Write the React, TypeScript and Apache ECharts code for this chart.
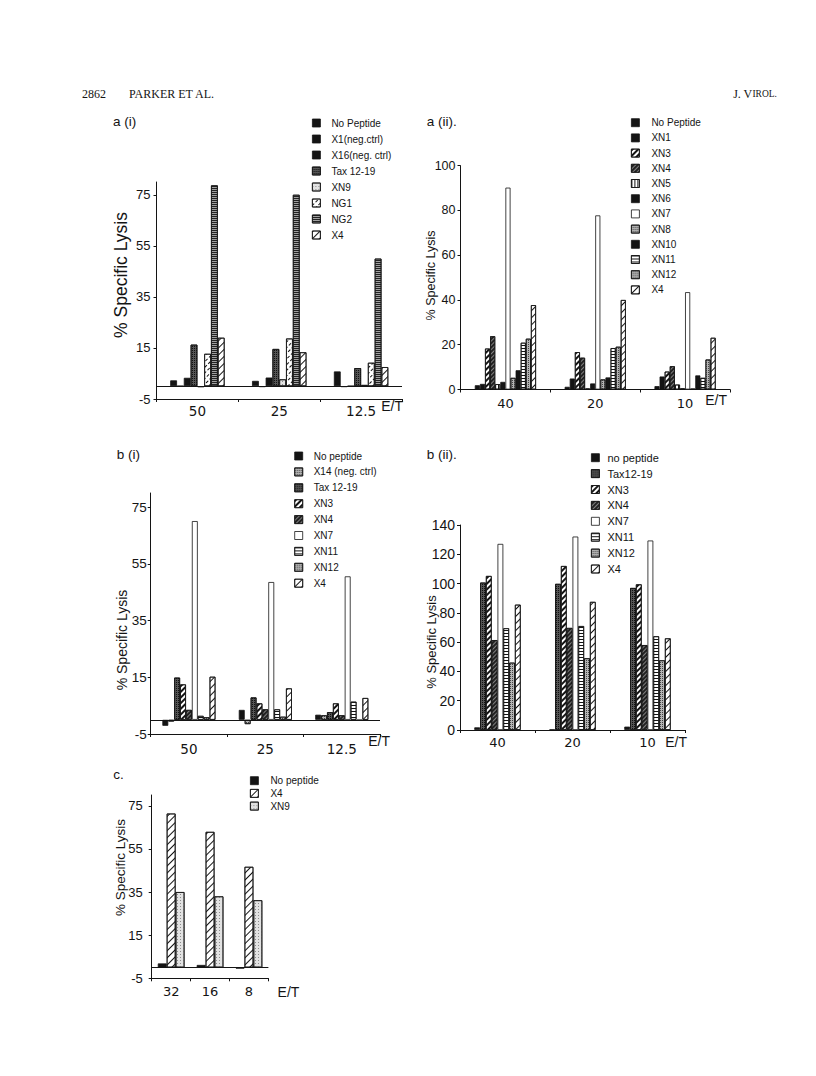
import React, { useEffect, useRef } from "react";
import * as echarts from "echarts";

// ---------- Panel a (i) ----------
const aiCategories = ["50", "25", "12.5"];
const aiNames = ["No Peptide", "X1(neg.ctrl)", "X16(neg. ctrl)", "Tax 12-19", "XN9", "NG1", "NG2", "X4"];
const aiValues = [
  [2.3, 2.1, 5.8],
  [0.1, -0.3, -0.3],
  [3.3, 3.4, 0.1],
  [16.3, 14.6, 7.1],
  [-0.3, 2.7, 0.5],
  [12.7, 18.7, 9.2],
  [78.7, 75.0, 50.0],
  [19.0, 13.3, 7.5],
];
const aiYTicks = [-5, 15, 35, 55, 75];

// ---------- Panel a (ii) ----------
const aiiCategories = ["40", "20", "10"];
const aiiNames = ["No Peptide", "XN1", "XN3", "XN4", "XN5", "XN6", "XN7", "XN8", "XN10", "XN11", "XN12", "X4"];
const aiiValues = [
  [1.9, 1.2, 1.5],
  [2.5, 4.9, 5.8],
  [18.3, 16.7, 8.0],
  [23.8, 14.2, 10.4],
  [2.4, 0.4, 2.2],
  [3.4, 2.7, 0.6],
  [90.2, 77.8, 43.5],
  [5.2, 4.5, 0.3],
  [8.6, 5.4, 6.3],
  [20.9, 18.5, 5.2],
  [22.7, 19.1, 13.4],
  [37.7, 40.0, 23.1],
];
const aiiYTicks = [0, 20, 40, 60, 80, 100];

// ---------- Panel b (i) ----------
const biCategories = ["50", "25", "12.5"];
const biNames = ["No peptide", "X14 (neg. ctrl)", "Tax 12-19", "XN3", "XN4", "XN7", "XN11", "XN12", "X4"];
const biValues = [
  [-2.1, 3.5, 1.8],
  [-0.6, -1.5, 1.6],
  [14.9, 7.9, 2.7],
  [12.5, 5.8, 5.8],
  [3.5, 3.7, 1.6],
  [70.1, 48.6, 50.6],
  [1.4, 3.7, 6.4],
  [0.9, 1.1, -0.3],
  [15.2, 11.1, 7.7],
];
const biYTicks = [-5, 15, 35, 55, 75];

// ---------- Panel b (ii) ----------
const biiCategories = ["40", "20", "10"];
const biiNames = ["no peptide", "Tax12-19", "XN3", "XN4", "XN7", "XN11", "XN12", "X4"];
const biiValues = [
  [1.8, 0.3, 2.3],
  [100.7, 99.8, 97.0],
  [105.2, 112.0, 99.5],
  [61.4, 69.7, 58.0],
  [127.1, 132.1, 129.4],
  [69.5, 71.0, 64.0],
  [46.0, 49.0, 47.6],
  [85.6, 87.5, 62.6],
];
const biiYTicks = [0, 20, 40, 60, 80, 100, 120, 140];

// ---------- Panel c ----------
const cCategories = ["32", "16", "8"];
const cNames = ["No peptide", "X4", "XN9"];
const cValues = [
  [1.9, 1.2, -0.5],
  [71.4, 62.9, 46.7],
  [35.0, 33.0, 31.2],
];
const cYTicks = [-5, 15, 35, 55, 75];

// ---------- styles ----------
const INK = "#141414";
const FONT = "'Liberation Sans', Arial, Helvetica, sans-serif";
const WIDE = "'DejaVu Sans', 'Liberation Sans', sans-serif";
const SERIF = "'Liberation Serif', 'Times New Roman', serif";
const DIAG = -Math.PI / 4;

const lines = (color: string, dashX: number[], dashY: number[], rotation: number) => ({
  symbol: "rect",
  symbolSize: 1,
  symbolKeepAspect: false,
  color,
  dashArrayX: dashX,
  dashArrayY: dashY,
  rotation,
});

const patternStyles: Record<string, any> = {
  black: { color: INK },
  white: { color: "#ffffff" },
  hatch: { color: "#ffffff", decal: lines(INK, [4, 0], [1, 4], DIAG) },
  hatchDense: { color: "#ffffff", decal: lines(INK, [4, 0], [2, 2], DIAG) },
  hatchDark: { color: "#222222", decal: lines("#808080", [4, 0], [1, 2], DIAG) },
  dashDiag: { color: "#ffffff", decal: lines(INK, [3, 2], [1, 3], DIAG) },
  vert: { color: "#ffffff", decal: lines(INK, [1, 2], [4, 0], 0) },
  horiz: { color: "#ffffff", decal: lines(INK, [4, 0], [1, 2], 0) },
  horizGrey: { color: "#a0a0a0", decal: lines("#222222", [4, 0], [1, 1], 0) },
  stippleDark: { color: "#555555", decal: lines("#111111", [1, 1], [1, 1], 0) },
  stippleMid: { color: "#b4b4b4", decal: lines("#444444", [1, 1], [1, 1], 0) },
  stippleLight: { color: "#e2e2e2", decal: lines("#8c8c8c", [1, 2], [1, 2], 0) },
};

const aiPatterns = ["black", "black", "black", "stippleDark", "stippleLight", "dashDiag", "horizGrey", "hatch"];
const aiiPatterns = ["black", "black", "hatchDense", "hatchDark", "vert", "black", "white", "stippleMid", "black", "horiz", "stippleMid", "hatch"];
const biPatterns = ["black", "stippleMid", "stippleDark", "hatchDense", "hatchDark", "white", "horiz", "stippleMid", "hatch"];
const biiPatterns = ["black", "stippleDark", "hatchDense", "hatchDark", "white", "horiz", "stippleMid", "hatch"];
const cPatterns = ["black", "hatch", "stippleLight"];

const panels = [
  {
    categories: aiCategories, names: aiNames, values: aiValues, patterns: aiPatterns, yTicks: aiYTicks,
    grid: { left: 156.5, top: 182, width: 245.5, height: 217 }, yMin: -5, yMax: 80, barWidth: 6.8, zeroLine: true,
    tickFont: 13, catFont: 13.5, yLabelMargin: 6, xLabelMargin: 5, etGap: 1, etPad: 0,
    legend: { left: 312, top: 117, fontSize: 10, gap: 4, textPad: 6 },
    title: { text: "a (i)", x: 113, y: 122.5 },
    yName: { x: 120.5, y: 275, size: 17.5 },
  },
  {
    categories: aiiCategories, names: aiiNames, values: aiiValues, patterns: aiiPatterns, yTicks: aiiYTicks,
    grid: { left: 460.5, top: 165.7, width: 269.5, height: 223.8 }, yMin: 0, yMax: 100, barWidth: 5.1, zeroLine: false,
    tickFont: 12.5, catFont: 13, yLabelMargin: 5, xLabelMargin: 7, etGap: -3, etPad: 3,
    legend: { left: 631, top: 116.7, fontSize: 10, gap: 3.2, textPad: 7 },
    title: { text: "a (ii).", x: 426.7, y: 122 },
    yName: { x: 430.5, y: 275.5, size: 12.5 },
  },
  {
    categories: biCategories, names: biNames, values: biValues, patterns: biPatterns, yTicks: biYTicks,
    grid: { left: 150.7, top: 493, width: 229.3, height: 241 }, yMin: -5, yMax: 80, barWidth: 5.9, zeroLine: true,
    tickFont: 13.5, catFont: 13.5, yLabelMargin: 4, xLabelMargin: 8, etGap: 10, etPad: 0,
    legend: { left: 294.3, top: 450, fontSize: 10, gap: 3.9, textPad: 6 },
    title: { text: "b (i)", x: 116.7, y: 455 },
    yName: { x: 121.5, y: 640, size: 14 },
  },
  {
    categories: biiCategories, names: biiNames, values: biiValues, patterns: biiPatterns, yTicks: biiYTicks,
    grid: { left: 460, top: 525, width: 225, height: 205 }, yMin: 0, yMax: 140, barWidth: 5.8, zeroLine: false,
    tickFont: 14, catFont: 13, yLabelMargin: 5, xLabelMargin: 6, etGap: 2, etPad: 5,
    legend: { left: 591, top: 451.7, fontSize: 11, gap: 3.9, textPad: 3 },
    title: { text: "b (ii).", x: 426.7, y: 455 },
    yName: { x: 431, y: 642, size: 13 },
  },
  {
    categories: cCategories, names: cNames, values: cValues, patterns: cPatterns, yTicks: cYTicks,
    grid: { left: 151.7, top: 795, width: 116.7, height: 183.3 }, yMin: -5, yMax: 80, barWidth: 8.9, zeroLine: true,
    tickFont: 13, catFont: 13, yLabelMargin: 9, xLabelMargin: 7, etGap: 31, etPad: 7,
    legend: { left: 250, top: 774.7, fontSize: 10, gap: 0.7, textPad: 7 },
    title: { text: "c.", x: 113.3, y: 775 },
    yName: { x: 120, y: 867.5, size: 13.5 },
  },
];

function buildOption() {
  const grid: any[] = [];
  const xAxis: any[] = [];
  const yAxis: any[] = [];
  const series: any[] = [];
  const legend: any[] = [];
  const graphic: any[] = [];

  panels.forEach((p, i) => {
    grid.push({ ...p.grid, containLabel: false, outerBoundsMode: "none" });
    xAxis.push({
      type: "category",
      gridIndex: i,
      data: p.categories,
      axisLine: { onZero: false, lineStyle: { color: INK, width: 1 } },
      axisTick: { show: true, length: 3, lineStyle: { color: INK, width: 1 } },
      axisLabel: { color: INK, fontFamily: WIDE, fontSize: p.catFont, margin: p.xLabelMargin },
      splitLine: { show: false },
      name: "E/T",
      nameLocation: "end",
      nameGap: p.etGap,
      nameTextStyle: {
        color: INK, fontFamily: FONT, fontSize: 14,
        align: "right", verticalAlign: "top", padding: [p.etPad, 0, 0, 0],
      },
    });
    yAxis.push({
      type: "value",
      gridIndex: i,
      min: p.yMin,
      max: p.yMax,
      axisLine: { show: true, lineStyle: { color: INK, width: 1 } },
      axisTick: { show: true, length: 3, customValues: p.yTicks, lineStyle: { color: INK, width: 1 } },
      axisLabel: { customValues: p.yTicks, color: INK, fontFamily: FONT, fontSize: p.tickFont, margin: p.yLabelMargin },
      splitLine: { show: false },
    });
    p.names.forEach((name, k) => {
      const st = patternStyles[p.patterns[k]];
      const s: any = {
        type: "bar",
        name,
        xAxisIndex: i,
        yAxisIndex: i,
        data: p.values[k],
        barWidth: p.barWidth,
        barGap: "0%",
        silent: true,
        emphasis: { disabled: true },
        itemStyle: { ...st, borderColor: INK, borderWidth: 0.8 },
      };
      if (k === 0 && p.zeroLine) {
        s.markLine = {
          silent: true,
          symbol: "none",
          label: { show: false },
          lineStyle: { color: INK, width: 1, type: "solid" },
          data: [{ yAxis: 0 }],
        };
      }
      series.push(s);
    });
    legend.push({
      orient: "vertical",
      left: p.legend.left,
      top: p.legend.top,
      padding: 0,
      itemWidth: 8,
      itemHeight: 8,
      itemGap: p.legend.gap,
      icon: "rect",
      selectedMode: false,
      data: p.names,
      itemStyle: { borderColor: INK, borderWidth: 0.8 },
      textStyle: {
        color: INK, fontFamily: FONT, fontSize: p.legend.fontSize, lineHeight: 12,
        padding: [0, 0, 0, p.legend.textPad],
      },
    });
    graphic.push({
      type: "text",
      left: p.title.x,
      top: p.title.y - 8,
      style: { text: p.title.text, font: `13.5px ${FONT}`, fill: INK },
    });
    graphic.push({
      type: "text",
      x: p.yName.x,
      y: p.yName.y,
      rotation: Math.PI / 2,
      style: {
        text: "% Specific Lysis",
        font: `${p.yName.size}px ${FONT}`,
        fill: INK,
        align: "center",
        verticalAlign: "middle",
        textAlign: "center",
        textVerticalAlign: "middle",
      },
    });
  });

  graphic.push(
    { type: "text", left: 82, top: 88, style: { text: "2862", font: `12px ${SERIF}`, fill: INK } },
    { type: "text", left: 129, top: 88, style: { text: "PARKER ET AL.", font: `12px ${SERIF}`, fill: INK } },
    {
      type: "text",
      right: 39,
      top: 88,
      style: {
        text: "{a|J. V}{b|IROL.}",
        fill: INK,
        rich: {
          a: { fontFamily: SERIF, fontSize: 12, fill: INK, color: INK },
          b: { fontFamily: SERIF, fontSize: 9.5, fill: INK, color: INK },
        },
      },
    }
  );

  return {
    animation: false,
    backgroundColor: "#ffffff",
    textStyle: { fontFamily: FONT },
    grid,
    xAxis,
    yAxis,
    legend,
    series,
    graphic,
  };
}

export default function App() {
  const ref = useRef<HTMLDivElement>(null);
  useEffect(() => {
    if (!ref.current) return;
    const chart = echarts.init(ref.current, null, { renderer: "svg" });
    chart.setOption(buildOption() as any);
    return () => chart.dispose();
  }, []);
  return (
    <div
      ref={ref}
      style={{ position: "absolute", left: 0, top: 0, width: 816, height: 1076, background: "#ffffff" }}
    />
  );
}
